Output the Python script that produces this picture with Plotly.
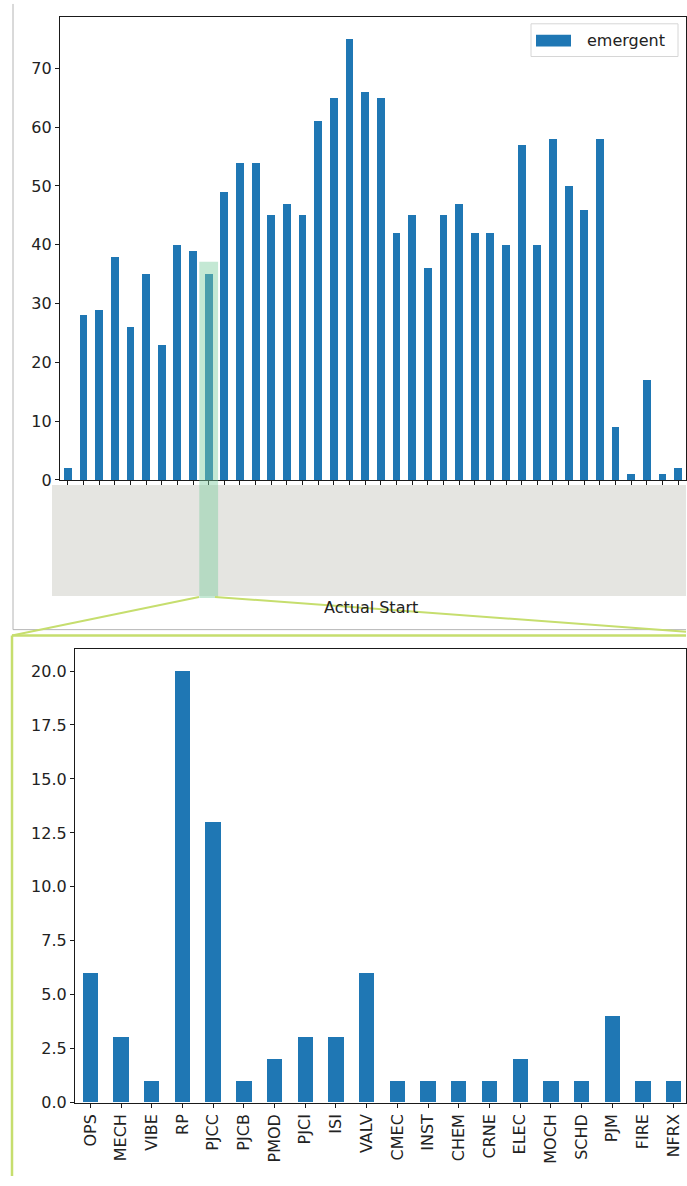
import plotly.graph_objects as go

# ---- data -------------------------------------------------------------
# overview: emergent counts per start bucket (labels not shown on the axis)
overview_counts = [2, 28, 29, 38, 26, 35, 23, 40, 39, 35,
                   49, 54, 54, 45, 47, 45, 61, 65, 75, 66,
                   65, 42, 45, 36, 45, 47, 42, 42, 40, 57,
                   40, 58, 50, 46, 58, 9, 1, 17, 1, 2]
highlight_index = 9

# detail: breakdown of the highlighted bucket by work group
detail_groups = ["OPS", "MECH", "VIBE", "RP", "PJCC", "PJCB", "PMOD", "PJCI", "ISI", "VALV",
                 "CMEC", "INST", "CHEM", "CRNE", "ELEC", "MOCH", "SCHD", "PJM", "FIRE", "NFRX"]
detail_counts = [6, 3, 1, 20, 13, 1, 2, 3, 3, 6,
                 1, 1, 1, 1, 2, 1, 1, 4, 1, 1]

overview_ticks = [0, 10, 20, 30, 40, 50, 60, 70]
detail_ticks = [0, 2.5, 5, 7.5, 10, 12.5, 15, 17.5, 20]

series_name = "emergent"
x_title = "Actual Start"

# ---- page geometry ----------------------------------------------------
W, H = 687, 1186
BLUE = "#1f77b4"
FONT = "DejaVu Sans"
LIME = "#c6de6e"


def px(x):
    return x / W


def py(y):
    return 1 - y / H


fig = go.Figure()

fig.add_trace(go.Bar(
    x=list(range(len(overview_counts))), y=overview_counts,
    width=0.5, marker=dict(color=BLUE, line=dict(width=0)),
    name=series_name, showlegend=False, xaxis="x", yaxis="y",
))
fig.add_trace(go.Bar(
    x=detail_groups, y=detail_counts,
    width=0.5, marker=dict(color=BLUE, line=dict(width=0)),
    name=series_name, showlegend=False, xaxis="x2", yaxis="y2",
))

axis_common = dict(
    showline=True, mirror=True, linecolor="#1a1a1a", linewidth=1.2,
    ticks="outside", ticklen=4, tickwidth=1, tickcolor="#1a1a1a",
    showgrid=False, zeroline=False,
    tickfont=dict(family=FONT, size=16, color="#222222"),
)

n_over = len(overview_counts)
n_det = len(detail_groups)
fig.update_layout(
    width=W, height=H,
    margin=dict(l=0, r=0, t=0, b=0),
    paper_bgcolor="white", plot_bgcolor="white",
    bargap=0,
    xaxis=dict(domain=[px(60), px(686)], range=[-0.5, n_over - 0.5],
               tickvals=list(range(n_over)), showticklabels=False,
               anchor="y", **axis_common),
    yaxis=dict(domain=[py(484), py(17)], range=[0, max(overview_counts) * 1.05],
               tickvals=overview_ticks, anchor="x", **axis_common),
    xaxis2=dict(domain=[px(75), px(686)], range=[-0.5, n_det - 0.6],
                type="category", tickangle=-90, anchor="y2", **axis_common),
    yaxis2=dict(domain=[py(1112), py(655)], range=[0, max(detail_counts) * 1.05],
                tickvals=detail_ticks, tickformat=".1f", anchor="x2", **axis_common),
)

shapes = []
# obscured tick-label band under the overview axis
shapes.append(dict(type="rect", xref="paper", yref="paper",
                   x0=px(52), x1=px(686), y0=py(601), y1=py(489),
                   fillcolor="#e5e5e1", line=dict(width=0), layer="above"))
# highlighted column
shapes.append(dict(type="rect", xref="x", yref="paper",
                   x0=highlight_index - 0.6, x1=highlight_index + 0.6,
                   y0=py(603), y1=py(264),
                   fillcolor="rgba(125,205,160,0.45)", line=dict(width=0), layer="above"))
# outer frame of the overview panel
shapes.append(dict(type="line", xref="paper", yref="paper",
                   x0=px(13), x1=px(13), y0=py(4), y1=py(635),
                   line=dict(color="#b4b4b4", width=1)))
shapes.append(dict(type="line", xref="paper", yref="paper",
                   x0=px(13), x1=px(686), y0=py(635), y1=py(635),
                   line=dict(color="#b4b4b4", width=1)))
# zoom connector lines
shapes.append(dict(type="line", xref="paper", yref="paper",
                   x0=px(199), y0=py(602), x1=px(12), y1=py(641),
                   line=dict(color=LIME, width=2)))
shapes.append(dict(type="line", xref="paper", yref="paper",
                   x0=px(215), y0=py(602), x1=px(686), y1=py(637),
                   line=dict(color=LIME, width=2)))
# detail panel frame (left and top edges; the rest runs off the page)
shapes.append(dict(type="line", xref="paper", yref="paper",
                   x0=px(12), x1=px(12), y0=py(641), y1=0,
                   line=dict(color=LIME, width=2.5)))
shapes.append(dict(type="line", xref="paper", yref="paper",
                   x0=px(12), x1=px(686), y0=py(641), y1=py(641),
                   line=dict(color=LIME, width=2.5)))
# legend box and swatch
shapes.append(dict(type="rect", xref="paper", yref="paper",
                   x0=px(531), x1=px(678), y0=py(57), y1=py(24),
                   line=dict(color="#d6d6d6", width=1), fillcolor="white", layer="above"))
shapes.append(dict(type="rect", xref="paper", yref="paper",
                   x0=px(536), x1=px(571), y0=py(47), y1=py(35),
                   line=dict(width=0), fillcolor=BLUE, layer="above"))

fig.update_layout(shapes=shapes)

fig.add_annotation(text=series_name, xref="paper", yref="paper",
                   x=px(585), y=py(41), xanchor="left", yanchor="middle",
                   showarrow=False, font=dict(family=FONT, size=16, color="#222222"))
fig.add_annotation(text=x_title, xref="paper", yref="paper",
                   x=px(371), y=py(613), xanchor="center", yanchor="middle",
                   showarrow=False, font=dict(family=FONT, size=16, color="#222222"))

fig.write_html("out.html")
